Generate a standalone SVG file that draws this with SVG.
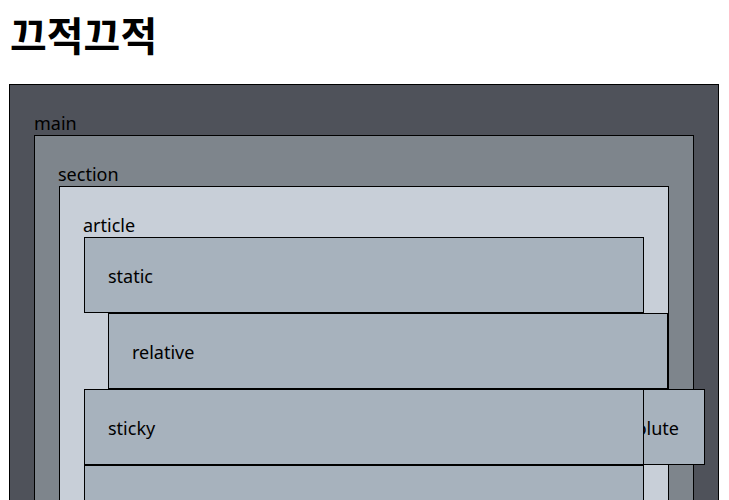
<svg xmlns="http://www.w3.org/2000/svg" width="729" height="500" viewBox="0 0 729 500">
<style>
.box{stroke:#000;stroke-width:1}
.lbl{font-family:"Noto Sans","Liberation Sans",sans-serif;font-size:18px;fill:#000}
.pos{fill:#a7b2bd}
</style>
<rect x="0" y="0" width="729" height="500" fill="#fff"/>
<text id="title" x="10" y="51" font-family="'Noto Sans CJK KR','Noto Sans',sans-serif" font-size="40" font-weight="bold" fill="#000">끄적끄적</text>
<g id="main">
<rect class="box" x="9.5" y="84.5" width="709" height="500" fill="#4f525a"/>
<text class="lbl" x="34" y="130">main</text>
</g>
<g id="section">
<rect class="box" x="34.5" y="135.5" width="659" height="450" fill="#7e858c"/>
<text class="lbl" x="58" y="181">section</text>
</g>
<g id="article">
<rect class="box" x="59.5" y="186.5" width="609" height="400" fill="#c8cfd8"/>
<text class="lbl" x="83" y="232">article</text>
</g>
<g id="static">
<rect class="box pos" x="84.5" y="237.5" width="559" height="75"/>
<text class="lbl" x="108" y="283">static</text>
</g>
<g id="relative">
<rect class="box pos" x="108.5" y="313.5" width="559" height="75"/>
<text class="lbl" x="132" y="359">relative</text>
</g>
<g id="absolute">
<rect class="box pos" x="594.5" y="389.5" width="110" height="75"/>
<text class="lbl" x="679" y="435" text-anchor="end">absolute</text>
</g>
<g id="sticky">
<rect class="box pos" x="84.5" y="389.5" width="559" height="75"/>
<text class="lbl" x="108" y="435">sticky</text>
</g>
<g id="fixed">
<rect class="box pos" x="84.5" y="465.5" width="559" height="100"/>
</g>
</svg>
